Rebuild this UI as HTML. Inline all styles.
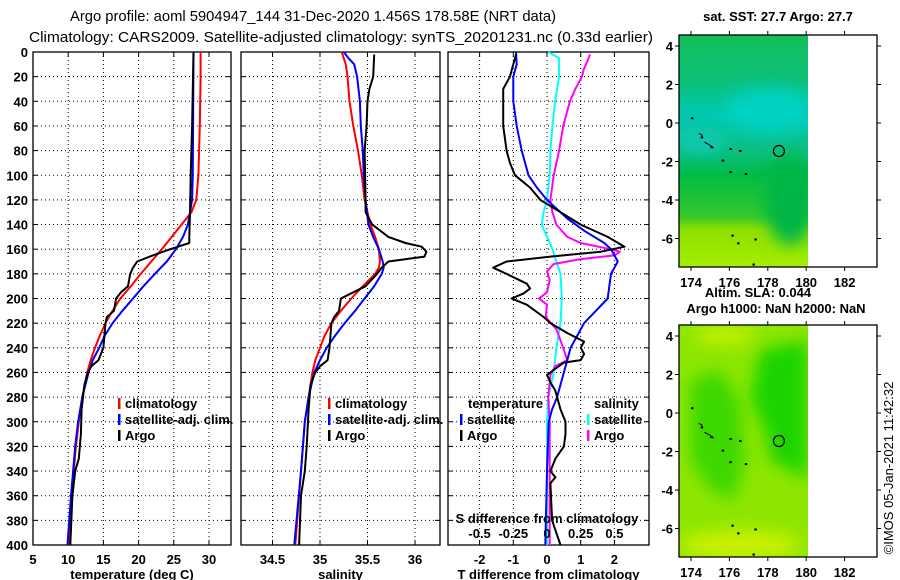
<!DOCTYPE html>
<html><head><meta charset="utf-8">
<style>
html,body{margin:0;padding:0;background:#fff;}
svg{display:block;font-family:"Liberation Sans",sans-serif;}
.t{font-weight:bold;font-size:13px;fill:#000;}
.ti{font-size:15px;fill:#000;}
</style></head>
<body>
<svg id="chart" width="900" height="580" viewBox="0 0 900 580" xmlns="http://www.w3.org/2000/svg">
<text class="ti" x="70" y="21" textLength="486" lengthAdjust="spacingAndGlyphs">Argo profile: aoml 5904947_144 31-Dec-2020 1.456S 178.58E (NRT data)</text>
<text class="ti" x="29" y="42" textLength="624" lengthAdjust="spacingAndGlyphs">Climatology: CARS2009. Satellite-adjusted climatology: synTS_20201231.nc (0.33d earlier)</text>
<g id="panels"></g>
<g id="maps"></g>
<text x="893" y="468" font-size="13" text-anchor="middle" transform="rotate(-90 893 468)">©IMOS 05-Jan-2021 11:42:32</text>
</svg>
<script>
// ---------- data ----------
const depthTicks = [0,20,40,60,80,100,120,140,160,180,200,220,240,260,280,300,320,340,360,380,400];
const tempTicks = [5,10,15,20,25,30];
const salTicks = [34.5,35,35.5,36];
const tdiffTicks = [-2,-1,0,1,2];
const sdiffTicks = [-0.5,-0.25,0,0.25,0.5];
const sdiffTickLabels = ['-0.5','-0.25','0','0.25','0.5'];

const tClimDepth = [0,20,60,100,120,130,140,150,160,170,180,190,200,210,220,230,240,250,260,280,300,320,340,360,380,400];
const tClimVal   = [28.8,28.8,28.7,28.5,28.2,27.5,26.1,24.7,23.3,21.8,20.3,18.9,17.4,16.3,15.3,14.5,13.8,13.2,12.7,12.0,11.5,11.1,10.8,10.5,10.3,10.1];
const tSatDepth = [0,100,120,140,150,160,170,180,190,200,210,220,230,240,250,260,280,300,320,360,400];
const tSatVal   = [27.8,27.7,27.6,27.0,26.3,25.3,24.0,22.3,20.7,19.2,17.7,16.3,15.2,14.4,13.5,12.9,12.0,11.4,11.0,10.4,9.9];
const tArgoDepth = [0,30,60,100,130,150,155,160,165,170,175,180,190,195,200,210,215,220,240,250,255,260,270,290,310,330,340,360,400];
const tArgoVal   = [27.8,27.7,27.6,27.4,27.3,27.2,27.2,24.5,22.0,19.8,19.2,18.8,18.5,17.5,16.8,16.5,15.5,15.3,15.0,14.3,13.3,12.8,12.3,11.9,11.8,11.5,11.0,10.6,10.3];

const sClimDepth = [0,10,20,40,60,80,100,120,140,150,160,170,175,180,190,200,210,220,230,240,250,260,280,300,320,340,360,400];
const sClimVal   = [35.23,35.27,35.29,35.31,35.35,35.40,35.44,35.47,35.53,35.58,35.62,35.63,35.62,35.58,35.45,35.33,35.22,35.12,35.05,35.00,34.95,34.92,34.88,34.84,34.82,34.80,34.78,34.74];
const sSatDepth = [0,5,10,20,40,60,80,100,120,140,150,160,170,175,180,190,200,210,220,230,240,250,260,280,300,340,400];
const sSatVal   = [35.25,35.30,35.36,35.39,35.42,35.43,35.45,35.46,35.48,35.51,35.56,35.62,35.66,35.67,35.65,35.57,35.47,35.37,35.26,35.16,35.07,35.00,34.94,34.88,34.84,34.80,34.73];
const sArgoDepth = [2,20,30,40,60,80,120,130,140,150,155,158,162,166,170,175,180,190,195,200,210,215,220,240,250,255,260,270,290,320,340,360,400];
const sArgoVal   = [35.57,35.56,35.52,35.50,35.49,35.47,35.48,35.48,35.55,35.72,35.90,36.07,36.12,36.10,35.72,35.65,35.60,35.48,35.35,35.22,35.20,35.15,35.12,35.10,35.08,35.00,34.95,34.90,34.88,34.86,34.84,34.80,34.78];

const dTArgoDepth = [2,20,30,40,60,80,90,100,110,120,130,140,150,158,162,166,170,175,180,188,192,196,200,205,215,220,228,235,240,245,250,252,258,262,268,275,290,300,310,320,330,340,345,350,380,400];
const dTArgoVal   = [-0.92,-1.1,-1.3,-1.3,-1.3,-1.2,-1.1,-0.95,-0.5,-0.2,0.4,1.0,1.8,2.3,1.6,0.1,-1.2,-1.6,-1.2,-0.6,-0.5,-0.7,-1.05,-0.6,-0.1,0.1,0.6,1.1,1.0,1.1,1.0,0.5,0.2,0.0,0.1,0.25,0.4,0.55,0.55,0.5,0.25,0.1,0.25,0.1,0.15,0.4];
const dTSatDepth = [0,10,20,40,60,80,90,100,110,120,125,135,145,155,160,170,180,190,200,210,220,240,260,280,290,300,340,400];
const dTSatVal   = [-0.92,-0.9,-1.0,-1.0,-0.9,-0.75,-0.65,-0.55,-0.3,0.0,0.2,0.6,1.1,1.7,1.9,2.1,1.9,1.85,1.8,1.45,1.1,0.7,0.5,0.3,0.15,0.05,0.0,-0.05];
const dSSatDepth = [0,5,20,40,60,80,100,120,130,140,150,160,170,180,200,220,240,260,280,300,400];
const dSSatVal   = [0.01,0.09,0.09,0.06,0.04,0.025,0.02,0.0,-0.025,-0.04,0.0,0.04,0.07,0.1,0.11,0.1,0.07,0.05,0.01,0.0,0.0];
const dSArgoDepth = [2,15,20,30,40,60,80,100,120,130,140,150,155,160,162,165,168,172,178,185,195,200,205,215,225,240,250,255,262,280,300,340,400];
const dSArgoVal   = [0.32,0.27,0.26,0.21,0.17,0.12,0.09,0.05,0.025,0.04,0.07,0.15,0.25,0.47,0.54,0.5,0.25,0.05,0.0,0.02,0.0,-0.06,0.0,-0.01,0.07,0.12,0.15,0.06,0.025,0.01,0.02,0.02,0.02];

const floatLon = [178.58];
const floatLat = [-1.456];

// ---------- helpers ----------
const NS='http://www.w3.org/2000/svg';
function mk(tag, attrs, parent){const e=document.createElementNS(NS,tag);for(const k in attrs)e.setAttribute(k,attrs[k]);parent.appendChild(e);return e;}
const Y0=52, Y1=545;
function yD(d){return Y0+d*(Y1-Y0)/400;}
const panelsG=document.getElementById('panels');

function panel(name,x0,x1,xs,ticks,tickLabels,showY,xtitle){
  const g=mk('g',{},panelsG);
  
  
  const f=mk('rect',{x:x0,y:Y0,width:x1-x0,height:Y1-Y0,fill:'none',stroke:'#000','stroke-width':1.3},g);
  
  
  ticks.forEach((t,i)=>{
    const x=xs(t);
    mk('line',{x1:x,x2:x,y1:Y0,y2:Y1,stroke:'#000','stroke-dasharray':'1,3','stroke-width':1},g);
    mk('line',{x1:x,x2:x,y1:Y0,y2:Y0+5,stroke:'#000'},g);
    mk('line',{x1:x,x2:x,y1:Y1,y2:Y1-5,stroke:'#000'},g);
    const l=mk('text',{x:x,y:564,'text-anchor':'middle',class:'t'},g);
    l.textContent=tickLabels[i];
    
    
  });
  depthTicks.forEach(d=>{
    const y=yD(d);
    mk('line',{x1:x0,x2:x1,y1:y,y2:y,stroke:'#000','stroke-dasharray':'1,3','stroke-width':1},g);
    mk('line',{x1:x0,x2:x0+5,y1:y,y2:y,stroke:'#000'},g);
    mk('line',{x1:x1,x2:x1-5,y1:y,y2:y,stroke:'#000'},g);
    if(showY){
      const l=mk('text',{x:28,y:y+5,'text-anchor':'end',class:'t'},g);
      l.textContent=String(d);
      
      
    }
  });
  const t=mk('text',{x:(x0+x1)/2,y:579,'text-anchor':'middle',class:'t'},g);
  t.textContent=xtitle;
  
  
  return g;
}
function series(g,name,depths,vals,xs,color,w){
  const pts=depths.map((d,i)=>xs(vals[i]).toFixed(1)+','+yD(d).toFixed(1)).join(' ');
  const p=mk('polyline',{points:pts,fill:'none',stroke:color,'stroke-width':w,'stroke-linejoin':'round'},g);
  
  
}
function legend(g,name,x,y,color,label){
  const e=mk('g',{},g);
  
  
  mk('rect',{x:x,y:y-10,width:2.5,height:11,fill:color},e);
  const t=mk('text',{x:x+7,y:y,class:'t'},e);
  t.textContent=label;
}

// panel 1 temperature
const xT=v=>33+(v-5)*7.04;
const p1=panel('temperature-panel',33,231,xT,tempTicks,tempTicks.map(String),true,'temperature (deg C)');
series(p1,'temp-climatology-line',tClimDepth,tClimVal,xT,'#ff0000',2);
series(p1,'temp-satellite-line',tSatDepth,tSatVal,xT,'#0000ff',2);
series(p1,'temp-argo-line',tArgoDepth,tArgoVal,xT,'#000',2);
legend(p1,'legend-climatology',118,408,'#ff0000','climatology');
legend(p1,'legend-satellite-adj',118,424,'#0000ff','satellite-adj. clim.');
legend(p1,'legend-argo',118,440,'#000','Argo');

// panel 2 salinity
const xS=v=>320+(v-35)*95;
const p2=panel('salinity-panel',241,440,xS,salTicks,salTicks.map(String),false,'salinity');
series(p2,'sal-climatology-line',sClimDepth,sClimVal,xS,'#ff0000',2);
series(p2,'sal-satellite-line',sSatDepth,sSatVal,xS,'#0000ff',2);
series(p2,'sal-argo-line',sArgoDepth,sArgoVal,xS,'#000',2);
legend(p2,'legend-climatology-2',328,408,'#ff0000','climatology');
legend(p2,'legend-satellite-adj-2',328,424,'#0000ff','satellite-adj. clim.');
legend(p2,'legend-argo-2',328,440,'#000','Argo');

// panel 3 differences
const xDT=v=>547+v*33.7;
const xDS=v=>547+v*4*33.7;
const p3=panel('difference-panel',448,649,xDT,tdiffTicks,tdiffTicks.map(String),false,'T difference from climatology');
series(p3,'sdiff-satellite-line',dSSatDepth,dSSatVal,xDS,'#00ffff',2);
series(p3,'sdiff-argo-line',dSArgoDepth,dSArgoVal,xDS,'#ff00ff',2);
series(p3,'tdiff-satellite-line',dTSatDepth,dTSatVal,xDT,'#0000ff',2);
series(p3,'tdiff-argo-line',dTArgoDepth,dTArgoVal,xDT,'#000',2);
{
  let t=mk('text',{x:468,y:408,class:'t'},p3);t.textContent='temperature';
  
  
  t=mk('text',{x:594,y:408,class:'t'},p3);t.textContent='salinity';
  
  
}
legend(p3,'legend-t-satellite',460,424,'#0000ff','satellite');
legend(p3,'legend-t-argo',460,440,'#000','Argo');
legend(p3,'legend-s-satellite',587,424,'#00ffff','satellite');
legend(p3,'legend-s-argo',587,440,'#ff00ff','Argo');
{
  const t=mk('text',{x:547,y:523,'text-anchor':'middle',class:'t'},p3);
  t.textContent='S difference from climatology';
  
  
  sdiffTicks.forEach((s,i)=>{
    const l=mk('text',{x:xDS(s),y:538,'text-anchor':'middle',class:'t'},p3);
    l.textContent=sdiffTickLabels[i];
    
    
  });
}

// ---------- maps ----------
const mapsG=document.getElementById('maps');
const lonTicks=[174,176,178,180,182];
const latTicks=[4,2,0,-2,-4,-6];
const mX=lon=>691+(lon-174)*19.2;
function map(name,top,bottom,fillFn){
  const g=mk('g',{},mapsG);
  
  
  const mY=lat=>top+11+(4-lat)*19.25;
  const clip='clip-'+name;
  const cp=mk('clipPath',{id:clip},g);
  mk('rect',{x:679,y:top,width:808-679,height:bottom-top},cp);
  const data=mk('g',{'clip-path':'url(#'+clip+')'},g);
  
  
  fillFn(data,top,bottom);
  // coastline bits
  const coast=[[174.0,0.3],[174.5,-0.7],[175.0,-1.2],[176.0,-1.3],[176.5,-1.4],[175.6,-1.9],[176,-2.5],[176.8,-2.6],[176.1,-5.8],[176.4,-6.2],[177.3,-6.0],[177.2,-7.3]];
  coast.forEach(c=>mk('rect',{x:mX(c[0]),y:mY(c[1]),width:2.5,height:2,fill:'#000'},g));
  mk('path',{d:`M${mX(174.4)} ${mY(-0.55)} l3 1 l1 3 M${mX(174.7)} ${mY(-1.0)} l4 2 l3 2 l2 2`,stroke:'#000',fill:'none','stroke-width':1},g);
  const c=mk('circle',{cx:mX(floatLon[0]),cy:mY(floatLat[0]),r:5.5,fill:'none',stroke:'#000','stroke-width':1.2},g);
  
  
  mk('rect',{x:679,y:top,width:198,height:bottom-top,fill:'none',stroke:'#000','stroke-width':1.3},g);
  lonTicks.forEach(l=>{
    const x=mX(l);
    mk('line',{x1:x,x2:x,y1:top-4,y2:top,stroke:'#000'},g);
    mk('line',{x1:x,x2:x,y1:bottom,y2:bottom+4,stroke:'#000'},g);
    const t=mk('text',{x:x,y:bottom+20,'text-anchor':'middle',class:'t'},g);
    t.textContent=String(l);
    
    
  });
  latTicks.forEach(l=>{
    const y=mY(l);
    mk('line',{x1:675,x2:679,y1:y,y2:y,stroke:'#000'},g);
    mk('line',{x1:877,x2:881,y1:y,y2:y,stroke:'#000'},g);
    const t=mk('text',{x:673,y:y+5,'text-anchor':'end',class:'t'},g);
    t.textContent=String(l);
    
    
  });
  return g;
}
const defs=mk('defs',{},mapsG);
const lg=mk('linearGradient',{id:'sstg',x1:0,y1:0,x2:0,y2:1},defs);
[[0,'#14bf5a'],[0.2,'#0cc07a'],[0.35,'#00c8b2'],[0.5,'#0cbf80'],[0.6,'#00bb48'],[0.78,'#34c82a'],[0.84,'#8ee000'],[1,'#a4ee00']].forEach(s=>mk('stop',{offset:s[0],'stop-color':s[1]},lg));
const bl=mk('filter',{id:'blur',x:'-50%',y:'-50%',width:'200%',height:'200%'},defs);
mk('feGaussianBlur',{stdDeviation:8},bl);

map('sst-map',35,267,(g,top,bot)=>{
  mk('rect',{x:679,y:top,width:129,height:bot-top,fill:'url(#sstg)'},g);
  mk('ellipse',{cx:770,cy:110,rx:45,ry:22,fill:'#00d2c2',filter:'url(#blur)'},g);
  mk('ellipse',{cx:790,cy:200,rx:25,ry:45,fill:'#00b646',filter:'url(#blur)'},g);
  mk('ellipse',{cx:700,cy:140,rx:25,ry:14,fill:'#10c8b0',filter:'url(#blur)'},g);
});
map('sla-map',325,557,(g,top,bot)=>{
  mk('rect',{x:679,y:top,width:129,height:bot-top,fill:'#8ee600'},g);
  mk('path',{d:'M760 350 L808 340 L808 480 L790 470 L770 460 L765 430 L750 400 Z',fill:'#1ad400',filter:'url(#blur)'},g);
  mk('path',{d:'M690 380 L720 370 L740 400 L745 460 L735 500 L710 490 L690 460 Z',fill:'#3cd800',filter:'url(#blur)'},g);
  mk('ellipse',{cx:740,cy:545,rx:60,ry:15,fill:'#c8f000',filter:'url(#blur)'},g);
  mk('ellipse',{cx:725,cy:335,rx:30,ry:10,fill:'#c0f000',filter:'url(#blur)'},g);
});
[['sat. SST: 27.7 Argo: 27.7',778,21,'sst-map-title'],['Altim. SLA: 0.044',758,297,'sla-value-label'],['Argo h1000: NaN h2000: NaN',776,313,'argo-height-label']].forEach(a=>{
  const t=mk('text',{x:a[1],y:a[2],'text-anchor':'middle',class:'t'},mapsG);
  t.textContent=a[0];
  
  
});
</script>
</body></html>
